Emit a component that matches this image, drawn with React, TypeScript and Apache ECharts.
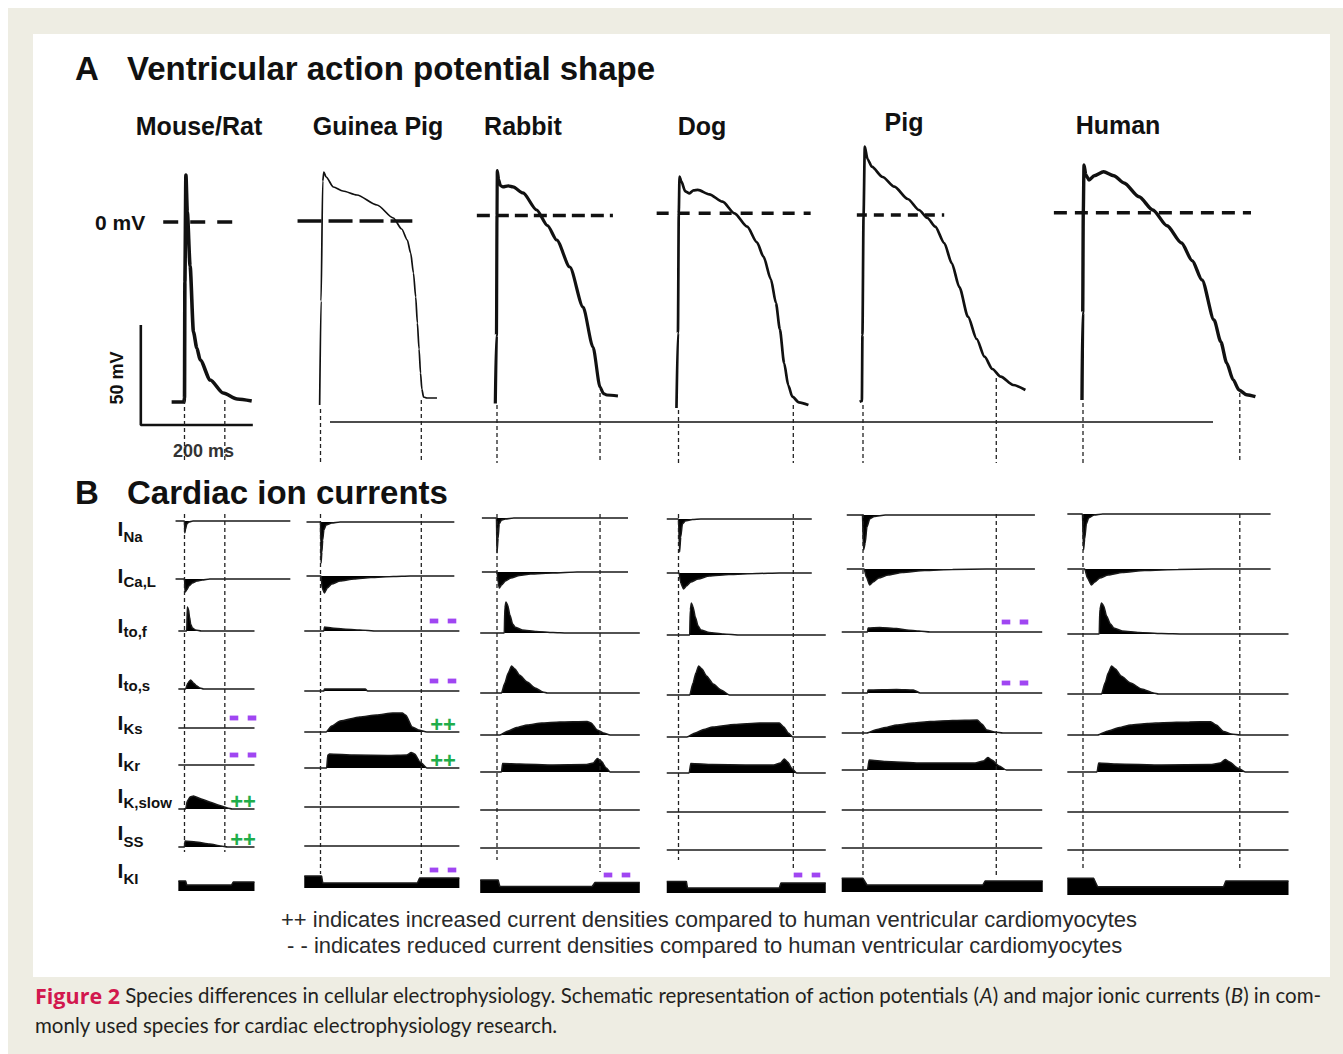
import React, { useEffect, useRef } from "react";
import * as echarts from "echarts";

// ---------------- DATA ----------------
const SPECIES = ["Mouse/Rat", "Guinea Pig", "Rabbit", "Dog", "Pig", "Human"];
const CURRENT_SUBS = ["Na", "Ca,L", "to,f", "to,s", "Ks", "Kr", "K,slow", "SS", "KI"];

// Ventricular action potentials: [time (ms), membrane potential (mV)]
const apMouse = [[-23, -90], [-1, -90], [0, -88], [0.7, -30], [2.5, 23.5], [5, 5], [10, -22], [16, -55], [22, -63], [28, -69], [46, -79], [69, -85.5], [94, -88.5], [120, -89.5]];
const apGuineaPig = [[-1.5, -92], [1, -40], [4, 20], [6, 24.5], [10, 22], [23, 17], [40, 15], [65, 13], [101, 8], [130, 1.5], [145, -4], [155, -9.5], [161, -16], [166, -26], [170, -38], [173, -51], [176, -64], [178.6, -76], [181, -84], [184, -88], [190, -88.5], [208, -88.5]];
const apRabbit = [[-3, -94], [-1, -60], [0, 0], [0.5, 22.4], [3, 18], [6, 15], [10.7, 14.3], [20, 14.8], [28.6, 14.3], [46.4, 11.3], [70.9, 2.75], [90, -5], [106.6, -12.25], [130, -25.75], [153.6, -45.75], [171.4, -65.75], [184, -85.75], [190, -89], [196, -89.75], [216, -90.25]];
const apDog = [[-3.6, -97.4], [-1, -60], [0.5, 0], [1.8, 18.3], [5, 16], [12, 11], [19.6, 10], [27, 11.5], [34.6, 11.7], [55, 9.5], [78.6, 5.8], [100, 0], [122.7, -6.7], [140, -14.5], [151.8, -21.7], [165, -33], [174, -44.85], [181, -58], [188.6, -74.85], [196, -86], [203.2, -91.7], [215, -94.5], [232, -95.85]];
const apPig = [[-6, -93.4], [-2, -93], [-1, -60], [1, 0], [3.2, 34.15], [8, 28], [15.7, 24.15], [35, 19], [56, 14.15], [80, 8], [100, 2.5], [115, -1.5], [129, -5.85], [145, -14], [158.6, -24.15], [172, -36], [187.5, -50.85], [203, -62], [217, -70.85], [231, -77], [246, -80.85], [268, -85], [290, -87.5]];
const apHuman = [[-1.8, -93.65], [-0.5, -50], [0.5, 0], [1.8, 23.85], [5, 19], [10.7, 16.35], [20, 18.5], [36.8, 20.5], [55, 18.5], [73.2, 14.85], [100, 8], [124.6, 1.35], [150, -6.5], [175.9, -15.15], [195, -24], [212.5, -33.65], [234, -53.65], [246, -64.5], [256.6, -75.15], [268, -83.5], [278.6, -88.65], [292, -91], [307.9, -92]];
const AP_TRACES = [apMouse, apGuineaPig, apRabbit, apDog, apPig, apHuman];

// 0 mV reference spans (ms) and action potential durations (ms)
const zeroLineSpans = [[-38, 90], [-41, 164], [-36, 207], [-39, 236], [-11, 145], [-52, 300]];
const apdMs = [72, 180, 184, 205, 238, 280];

// Scale bar: 50 mV / 200 ms
const scaleBarMv = 50;
const scaleBarMs = 200;

// Ionic currents (arbitrary units, outward positive): [time (ms), amplitude]
// order: INa, ICa,L, Ito,f, Ito,s, IKs, IKr, IK,slow, ISS, IK1
const iMouse = [
  [[0, 0], [0.5, -12], [2, -8], [4, -3], [8, -1], [15, 0]],
  [[0, 0], [1, -13], [4, -11], [8, -7], [14, -4], [22, -2], [32, -1], [45, 0]],
  [[4, 0], [5, 24], [7, 22], [9, 14], [11, 7], [14, 3], [20, 1], [30, 0]],
  [[2, 0], [6, 6], [11, 9], [16, 6], [22, 3], [28, 1], [34, 0]],
  [],
  [],
  [[2, 0], [5, 8], [10, 12], [16, 13], [30, 10], [45, 7], [60, 4], [77, 1], [85, 0]],
  [[0, 0], [1, 6], [20, 5], [45, 3], [65, 1], [77, 0]],
  [[-11, 10], [2, 10], [4, 6], [84, 6], [87, 9], [125, 9]],
];
const iGuineaPig = [
  [[0, 0], [0.5, -20], [1, -41], [2.5, -30], [4, -18], [6, -8], [10, -3], [20, -1], [35, 0]],
  [[1, 0], [3, -12], [7, -17], [12, -12], [20, -8], [35, -5], [60, -3], [90, -1.5], [130, -0.5], [160, 0]],
  [[6, 0], [7, 4], [20, 3], [40, 2], [70, 1], [100, 0]],
  [[6, 0], [7, 2], [80, 2], [84, 0]],
  [[10, 0], [20, 6], [35, 11], [70, 15], [100, 17], [129, 19], [146, 19], [152, 17], [164, 5], [175, 2], [190, 0]],
  [[11, 0], [13, 13], [16, 14], [60, 13], [120, 12.5], [154, 13], [162, 15.5], [168, 14], [178, 6], [190, 0]],
  [],
  [],
  [[-29, 12], [2, 12], [4, 5], [173, 5], [177, 10], [248, 10]],
];
const iRabbit = [
  [[-1, 0], [0, -35], [2, -20], [4, -6], [8, -2], [15, -1], [30, 0]],
  [[0, 0], [2, -10], [4, -16], [8, -13], [15, -9], [25, -6], [40, -3.5], [60, -2], [100, -1], [143, 0]],
  [[13, 0], [14, 25], [16, 31], [19, 28], [23, 18], [28, 9], [32, 6], [45, 3], [70, 1.5], [100, 0.5], [125, 0]],
  [[8, 0], [14, 10], [20, 20], [26, 27], [32, 24], [40, 18], [54, 11], [68, 5], [82, 1], [90, 0]],
  [[5, 0], [20, 4], [35, 7.5], [54, 10], [80, 12], [112, 13], [161, 13.5], [168, 12], [179, 5], [190, 2], [202, 0]],
  [[8, 0], [10, 8.5], [40, 8], [100, 7], [160, 7.5], [172, 9], [179, 13.5], [186, 11], [195, 4], [202, 0]],
  [],
  [],
  [[-30, 13], [2, 13], [5, 6.5], [170, 6.5], [175, 10.5], [255, 10.5]],
];
const iDog = [
  [[0, 0], [2, -33], [4, -18], [7, -5], [12, -2], [25, -0.5], [40, 0]],
  [[1, 0], [4, -10], [9, -16], [14, -13], [22, -9], [35, -6], [55, -3], [90, -1.5], [140, -0.5], [180, 0]],
  [[20, 0], [21, 25], [23, 32], [26, 28], [30, 18], [35, 9], [40, 5], [55, 2.5], [80, 1], [110, 0]],
  [[20, 0], [26, 12], [31, 22], [36, 29], [42, 26], [50, 19], [62, 11], [76, 5], [91, 0]],
  [[15, 0], [30, 4], [45, 7.5], [61, 10], [100, 12.5], [145, 14], [180, 14], [188, 10], [196, 4], [204, 0]],
  [[19, 0], [22, 9.5], [60, 8.5], [120, 8], [170, 8], [182, 10], [189, 14], [195, 11], [203, 4], [211, 0]],
  [],
  [],
  [[-21, 11.5], [14, 11.5], [16, 5], [180, 5], [183, 10], [263, 10]],
];
const iPig = [
  [[-1, 0], [1, -35], [4, -28], [7, -12], [12, -4], [20, -1.5], [40, 0]],
  [[2, 0], [6, -8], [12, -16], [18, -13], [28, -9], [45, -6], [70, -3.5], [110, -1.5], [160, -0.5], [220, 0]],
  [[8, 0], [9, 4], [30, 4.5], [60, 3.5], [78, 2], [100, 1], [120, 0]],
  [[8, 0], [9, 3], [60, 3.5], [90, 3], [102, 0]],
  [[7, 0], [25, 3.5], [40, 5.5], [60, 8], [90, 10], [120, 11.5], [160, 12.5], [204, 13], [212, 9], [221, 3], [235, 1], [250, 0]],
  [[8, 0], [11, 10], [40, 8.5], [100, 7], [200, 7], [215, 9], [223, 12.5], [230, 10], [243, 4], [256, 0]],
  [],
  [],
  [[-38, 13.7], [0, 13.7], [7, 7], [214, 7], [218, 11], [321, 11]],
];
const iHuman = [
  [[-1, 0], [1, -36], [3, -25], [6, -10], [10, -4], [20, -1], [35, 0]],
  [[3, 0], [8, -9], [15, -16], [21, -13], [30, -9], [45, -6], [70, -3.5], [110, -1.5], [170, -0.5], [230, 0]],
  [[29, 0], [30, 24], [33, 31], [37, 28], [42, 18], [49, 10], [55, 6], [70, 3], [100, 1.5], [140, 0.5], [180, 0]],
  [[33, 0], [40, 12], [45, 21], [51, 28], [58, 25], [68, 18], [85, 11], [105, 5], [126, 1], [135, 0]],
  [[26, 0], [45, 4], [65, 7.5], [85, 10], [115, 11.5], [144, 12.3], [190, 13], [228, 13.3], [238, 10], [251, 3.5], [265, 1], [281, 0]],
  [[25, 0], [28, 9], [60, 8], [140, 7], [230, 7.5], [245, 9], [254, 12.5], [262, 10], [276, 4], [290, 0]],
  [],
  [],
  [[-28, 16.7], [19, 16.7], [26, 8.3], [251, 8.3], [255, 14], [367, 14]],
];
const CURRENT_TRACES = [iMouse, iGuineaPig, iRabbit, iDog, iPig, iHuman];

// recorded time windows (ms) of the current traces: INa/ICa,L rows and other rows
const spansFast = [[-16, 189], [-25, 239], [-27, 234], [-21, 238], [-29, 307], [-28, 335]];
const spansSlow = [[-11, 125], [-29, 248], [-30, 255], [-21, 263], [-38, 320], [-28, 367]];

// density vs human: [species index, current index]
const decreasedDensity = [[0, 4], [0, 5], [1, 2], [1, 3], [1, 8], [2, 8], [3, 8], [4, 2], [4, 3]];
const increasedDensity = [[0, 6], [0, 7], [1, 4], [1, 5]];

// ---------------- LAYOUT ----------------
const W = 1343;
const H = 1054;
const PX_MS = 0.56;
const PX_MV = 2;
const T_MIN = -80;
const T_MAX = 380;
const X0 = [184.5, 320.5, 497, 678.5, 863, 1083];
const ZERO_Y = [222, 221, 215.5, 213.3, 215, 212.7];
const BASE_Y = [
  [521, 579, 631, 689, 728, 765, 809, 847, 891],
  [522, 576, 631, 691, 732, 768, 807, 846, 888],
  [518, 572, 633, 693, 735, 772, 810, 848, 893],
  [519, 573, 635, 695, 737, 773, 812, 850, 893],
  [515, 569, 632, 693, 733, 770, 810, 848, 892],
  [514, 569, 634, 694, 735, 772, 812, 850, 895],
];
const AP_WIDTH = [3.6, 1.7, 3.2, 2.7, 2.7, 3.4];
const ZERO_DASH = [[15, 12], [24, 7], [13, 6], [12, 9], [10, 7], [13, 8]];
const V_TOP_A = [[400, 400], [409, 400], [405, 393], [410, 405], [405, 378], [403, 393]];
const V_END_A = 463;
const V_TOP_B = 514;
const V_END_B = [[852, 852], [874, 874], [860, 872], [860, 870], [875, 875], [868, 868]];
const SCALE_ORIGIN = { t: -78, v: -101.5 };
const SPECIES_LABEL = [[199, 126], [378, 126], [523, 126], [702, 126], [904, 122], [1118, 125]];
const ROW_LABEL_Y = [[528, 536], [575, 581.5], [625.5, 631], [680, 685.5], [722.5, 728], [759, 765], [795.5, 802], [832.5, 841], [870.5, 878]];
const MARK_X = [243, 443, 617, 807, 1015, 1200];

const FONT = '"Liberation Sans", Arial, sans-serif';
const CAP_FONT = 'Lato, "Open Sans", sans-serif';
const INK = "#111";
const PURPLE = "#a046f2";
const GREEN = "#20ad4a";
const BEIGE = "#eeede3";

function buildOption() {
  const grid: any[] = [];
  const xAxis: any[] = [];
  const yAxis: any[] = [];
  const series: any[] = [];
  const addGrid = (left: number, top: number, width: number, height: number, yMin: number, yMax: number, inverse = false) => {
    const idx = grid.length;
    grid.push({ left, top, width, height, containLabel: false });
    xAxis.push({ type: "value", gridIndex: idx, min: T_MIN, max: T_MAX, show: false });
    yAxis.push({ type: "value", gridIndex: idx, min: yMin, max: yMax, show: false, inverse });
    return idx;
  };
  const gw = (T_MAX - T_MIN) * PX_MS;

  SPECIES.forEach((_, i) => {
    const left = X0[i] + T_MIN * PX_MS;
    // panel A
    const g = addGrid(left, ZERO_Y[i] - 50 * PX_MV, gw, 180 * PX_MV, -130, 50);
    series.push({
      type: "line", xAxisIndex: g, yAxisIndex: g, data: zeroLineSpans[i].map((t) => [t, 0]),
      showSymbol: false, silent: true, z: 2,
      lineStyle: { color: INK, width: 3.6, type: ZERO_DASH[i] },
    });
    series.push({
      type: "line", xAxisIndex: g, yAxisIndex: g, data: AP_TRACES[i], showSymbol: false, silent: true,
      smooth: 0.25, smoothMonotone: "x", z: 3,
      lineStyle: { color: INK, width: AP_WIDTH[i], join: "round" },
    });
    if (i === 0) {
      const { t, v } = SCALE_ORIGIN;
      series.push({
        type: "line", xAxisIndex: g, yAxisIndex: g, showSymbol: false, silent: true,
        data: [[t, v + scaleBarMv], [t, v], [t + scaleBarMs, v]],
        lineStyle: { color: INK, width: 2.6 },
      });
    }
    // panel B rows
    CURRENT_SUBS.forEach((_, r) => {
      const rg = addGrid(left, BASE_Y[i][r] - 45, gw, 90, -45, 45);
      const shape = CURRENT_TRACES[i][r];
      let data: number[][];
      if (r === 8) {
        data = shape;
      } else {
        const span = r < 2 ? spansFast[i] : spansSlow[i];
        data = [[span[0], 0], ...shape, [span[1], 0]];
      }
      series.push({
        type: "line", xAxisIndex: rg, yAxisIndex: rg, data, showSymbol: false, silent: true,
        smooth: r === 8 ? false : 0.2, smoothMonotone: "x",
        lineStyle: { color: "#1a1a1a", width: 1.5 },
        areaStyle: { color: "#000", opacity: 1 },
      });
    });
    // guide lines at upstroke and end of repolarisation
    const cg = addGrid(left, 0, gw, H, 0, H, true);
    [0, apdMs[i]].forEach((t, k) => {
      const segs = [[V_TOP_A[i][k], V_END_A], [V_TOP_B, V_END_B[i][k]]];
      segs.forEach(([a, b]) => {
        series.push({
          type: "line", xAxisIndex: cg, yAxisIndex: cg, showSymbol: false, silent: true, z: 4,
          data: [[t, a], [t, b]],
          lineStyle: { color: "#222", width: 1.3, type: [4, 3] },
        });
      });
    });
  });

  const els: any[] = [];
  const text = (x: number, y: number, t: string, font: string, extra: any = {}) => ({
    type: "text", x, y, silent: true, ...extra.el,
    style: { text: t, font, fill: INK, align: "left", verticalAlign: "middle", ...extra.style },
  });
  els.push({ type: "rect", z: -10, silent: true, shape: { x: 8, y: 8, width: W - 8, height: H - 8 }, style: { fill: BEIGE } });
  els.push({ type: "rect", z: -9, silent: true, shape: { x: 33, y: 34, width: 1297, height: 943 }, style: { fill: "#fff" } });

  els.push(text(75, 68, "A", `bold 33px ${FONT}`));
  els.push(text(127, 68, "Ventricular action potential shape", `bold 33px ${FONT}`));
  els.push(text(75, 492, "B", `bold 33px ${FONT}`));
  els.push(text(127, 492, "Cardiac ion currents", `bold 33px ${FONT}`));
  SPECIES.forEach((s, i) => {
    els.push(text(SPECIES_LABEL[i][0], SPECIES_LABEL[i][1], s, `bold 25px ${FONT}`, { style: { align: "center" } }));
  });
  els.push(text(95, 222, "0 mV", `bold 21px ${FONT}`));
  els.push(text(117, 378, `${scaleBarMv} mV`, `bold 18px ${FONT}`, { el: { rotation: Math.PI / 2 }, style: { align: "center" } }));
  els.push(text(203.5, 451, `${scaleBarMs} ms`, `bold 18px ${FONT}`, { style: { align: "center", fill: "#333" } }));
  els.push({ type: "line", silent: true, shape: { x1: 330, y1: 422, x2: 1213, y2: 422 }, style: { stroke: INK, lineWidth: 1.7 } });

  CURRENT_SUBS.forEach((sub, r) => {
    els.push(text(117.5, ROW_LABEL_Y[r][0], "I", `bold 21px ${FONT}`));
    els.push(text(123.5, ROW_LABEL_Y[r][1], sub, `bold 15px ${FONT}`));
  });

  decreasedDensity.forEach(([s, r]) => {
    const cy = BASE_Y[s][r] - (r === 8 ? 18 : 10);
    const cx = MARK_X[s];
    [-9, 9].forEach((dx) => {
      els.push({ type: "rect", silent: true, shape: { x: cx + dx - 4.3, y: cy - 2.4, width: 8.6, height: 4.8 }, style: { fill: PURPLE } });
    });
  });
  increasedDensity.forEach(([s, r]) => {
    const cy = BASE_Y[s][r] - 8;
    els.push(text(MARK_X[s], cy, "++", `bold 22px ${FONT}`, { style: { align: "center", fill: GREEN } }));
  });

  els.push(text(281, 919, "++ indicates increased current densities compared to human ventricular cardiomyocytes", `22px ${FONT}`, { style: { fill: "#2a2a2a" } }));
  els.push(text(287, 945, "- - indicates reduced current densities compared to human ventricular cardiomyocytes", `22px ${FONT}`, { style: { fill: "#2a2a2a" } }));

  els.push({
    type: "text", x: 35, y: 995, silent: true,
    style: {
      text: "{b|Figure 2} Species differences in cellular electrophysiology. Schematic representation of action potentials ({i|A}) and major ionic currents ({i|B}) in com-",
      font: `20.5px ${CAP_FONT}`, fill: "#231f20", align: "left", verticalAlign: "middle",
      rich: {
        b: { fontFamily: '"Open Sans", Lato, sans-serif', fontSize: 21.5, fontWeight: "bold", fill: "#d2184e" },
        i: { fontFamily: CAP_FONT, fontSize: 20.5, fontStyle: "italic", fill: "#231f20" },
      },
    },
  });
  els.push(text(35, 1025, "monly used species for cardiac electrophysiology research.", `20.5px ${CAP_FONT}`, { style: { fill: "#231f20" } }));

  return {
    animation: false,
    backgroundColor: "#fff",
    grid, xAxis, yAxis, series,
    graphic: { elements: els },
  };
}

export default function App() {
  const ref = useRef<HTMLDivElement>(null);
  useEffect(() => {
    document.body.style.margin = "0";
    document.body.style.overflow = "hidden";
    if (!ref.current) return;
    const chart = echarts.init(ref.current, undefined, { renderer: "svg" });
    chart.setOption(buildOption() as any);
    return () => chart.dispose();
  }, []);
  return <div ref={ref} style={{ width: W, height: H }} />;
}
